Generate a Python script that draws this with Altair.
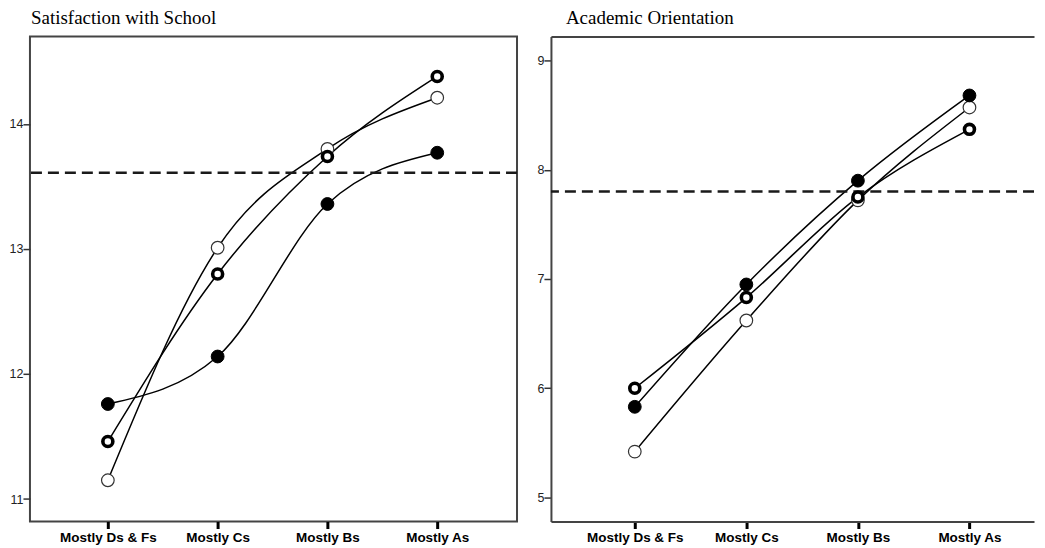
import altair as alt
import pandas as pd

categories = ["Mostly Ds & Fs", "Mostly Cs", "Mostly Bs", "Mostly As"]
series = ["Filled", "Open", "Ring"]

# Satisfaction with School
sat_filled = [11.76, 12.14, 13.36, 13.77]
sat_open = [11.15, 13.01, 13.80, 14.21]
sat_ring = [11.46, 12.80, 13.74, 14.38]
sat_mean = 13.61
sat_ticks = [11, 12, 13, 14]

# Academic Orientation
aca_filled = [5.83, 6.95, 7.90, 8.68]
aca_open = [5.42, 6.62, 7.72, 8.57]
aca_ring = [6.00, 6.83, 7.75, 8.37]
aca_mean = 7.80
aca_ticks = [5, 6, 7, 8, 9]

FRAME = "#444444"


def make_df(filled, opn, ring):
    rows = []
    for s, vals in zip(series, [filled, opn, ring]):
        for c, v in zip(categories, vals):
            rows.append({"grade": c, "series": s, "value": v})
    return pd.DataFrame(rows)


def panel(title, filled, opn, ring, mean, ydom, yticks, width, xpad, xalign,
          framed, title_dx):
    df = make_df(filled, opn, ring)
    base = alt.Chart(df)
    xscale = alt.Scale(type="point", padding=xpad, align=xalign)
    x_bottom = alt.X(
        "grade:N", sort=categories, scale=xscale,
        axis=alt.Axis(title=None, labelAngle=0, labelFont="Liberation Sans",
                      labelFontWeight="bold", labelFontSize=13.5, labelColor="black",
                      tickSize=7, tickWidth=3, tickColor="black", labelPadding=2,
                      domain=not framed, domainColor=FRAME, domainWidth=2))
    x_top = alt.X(
        "grade:N", sort=categories, scale=xscale,
        axis=alt.Axis(title=None, orient="top", labels=False, ticks=False,
                      domain=True, domainColor=FRAME, domainWidth=2))
    x_none = alt.X("grade:N", sort=categories, scale=xscale, axis=None)
    y_enc = alt.Y(
        "value:Q", scale=alt.Scale(domain=ydom, nice=False, zero=False),
        axis=alt.Axis(values=yticks, title=None, grid=False, tickSize=7,
                      tickWidth=1.5, tickColor="#333333", labelPadding=0,
                      labelFont="Liberation Sans", labelFontSize=12.5,
                      labelColor="#222222", domain=not framed,
                      domainColor=FRAME, domainWidth=2))

    if framed:
        x_a, x_b = x_bottom, x_bottom
    else:
        x_a, x_b = x_top, x_none

    lines = base.mark_line(interpolate="monotone", color="black",
                           strokeWidth=1.5).encode(
        x=x_bottom, y=y_enc, detail="series:N")
    pts_open = base.transform_filter(alt.datum.series == "Open").mark_point(
        shape="circle", filled=True, fill="white", stroke="#333333",
        strokeWidth=1.2, size=160, opacity=1).encode(x=x_a, y=y_enc)
    pts_filled = base.transform_filter(alt.datum.series == "Filled").mark_point(
        shape="circle", filled=True, fill="black", stroke="black",
        strokeWidth=1, size=165, opacity=1).encode(x=x_b, y=y_enc)
    pts_ring = base.transform_filter(alt.datum.series == "Ring").mark_point(
        shape="circle", filled=True, fill="white", stroke="black",
        strokeWidth=3.6, size=100, opacity=1).encode(x=x_b, y=y_enc)
    rule = alt.Chart(pd.DataFrame({"value": [mean]})).mark_rule(
        strokeDash=[11, 6], strokeWidth=2.5, color="#1a1a1a").encode(y=y_enc)

    layer = alt.layer(lines, rule, pts_open, pts_filled, pts_ring).properties(
        width=width, height=486,
        title=alt.TitleParams(title, anchor="start", frame="group",
                              font="Liberation Serif", fontSize=19,
                              fontWeight="normal", color="black", offset=8,
                              dx=title_dx))
    if not framed:
        layer = layer.resolve_axis(x="independent").properties(
            view=alt.ViewBackground(stroke="transparent"))
    return layer


left = panel("Satisfaction with School", sat_filled, sat_open, sat_ring,
             sat_mean, [10.82, 14.70], sat_ticks, 488, 0.718, 0.494, True, 1)
right = panel("Academic Orientation", aca_filled, aca_open, aca_ring,
              aca_mean, [4.78, 9.22], aca_ticks, 484, 0.665, 0.565, False, 15)

chart = alt.hconcat(left, right, spacing=16).properties(
    padding={"left": 0, "top": 0, "right": 0, "bottom": 0},
    background="white",
).configure_view(stroke=FRAME, strokeWidth=2)

chart.save("out.html", embed_options={"renderer": "svg", "actions": False})
